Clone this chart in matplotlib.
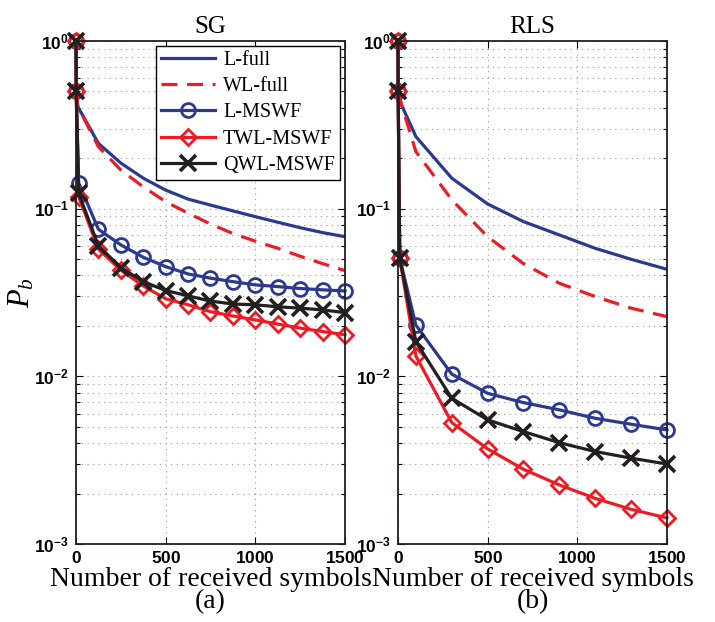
import numpy as np
import matplotlib; matplotlib.use("Agg")
import matplotlib.pyplot as plt
from matplotlib.ticker import FixedLocator, FuncFormatter, LogLocator, NullFormatter

BLUE, RED, BLACK = "#2b3990", "#ed1c24", "#231f20"
plt.rcParams["font.family"] = ["Liberation Serif"]
plt.rcParams["mathtext.fontset"] = "custom"
plt.rcParams["mathtext.bf"] = "Liberation Sans:bold"
plt.rcParams["mathtext.it"] = "Liberation Serif:italic"
plt.rcParams["mathtext.rm"] = "Liberation Serif"

# ---- SG panel (a) ----
sg_x_full = [0, 1, 10, 125, 250, 375, 500, 625, 750, 875, 1000, 1125, 1250, 1375, 1500]
sg_lfull = [1.0, 0.5, 0.406, 0.245, 0.187, 0.152, 0.129, 0.114, 0.105, 0.097, 0.0896,
            0.083, 0.077, 0.072, 0.068]
sg_wlfull = [1.0, 0.5, 0.406, 0.234, 0.170, 0.135, 0.110, 0.094, 0.081, 0.071, 0.064,
             0.058, 0.052, 0.047, 0.0427]
sg_x = [0, 1, 15, 125, 250, 375, 500, 625, 750, 875, 1000, 1125, 1250, 1375, 1500]
sg_lmswf = [1.0, 0.5, 0.142, 0.0753, 0.0608, 0.0513, 0.0451, 0.0408, 0.0385, 0.0367,
            0.0351, 0.0343, 0.0334, 0.0328, 0.0323]
sg_twl = [1.0, 0.5, 0.118, 0.0573, 0.043, 0.0346, 0.0290, 0.0267, 0.0243, 0.0229,
          0.0217, 0.0205, 0.0194, 0.0185, 0.0177]
sg_qwl = [1.0, 0.5, 0.1235, 0.060, 0.0445, 0.0367, 0.0325, 0.0302, 0.0281, 0.0270,
          0.0267, 0.026, 0.0255, 0.0249, 0.024]

# ---- RLS panel (b) ----
rls_x_full = [0, 1, 20, 100, 300, 500, 700, 900, 1100, 1300, 1500]
rls_lfull = [1.0, 0.5, 0.415, 0.269, 0.152, 0.1067, 0.0837, 0.0697, 0.058, 0.0499, 0.0435]
rls_wlfull = [1.0, 0.5, 0.415, 0.219, 0.113, 0.068, 0.047, 0.0359, 0.0299, 0.0255, 0.0227]
rls_x = [0, 1, 10, 100, 300, 500, 700, 900, 1100, 1300, 1500]
rls_lmswf = [1.0, 0.5, 0.0506, 0.0202, 0.0103, 0.00792, 0.00697, 0.00631, 0.00562,
             0.00518, 0.00479]
rls_twl = [1.0, 0.5, 0.0506, 0.0132, 0.0053, 0.00369, 0.00279, 0.00225, 0.00187,
           0.00161, 0.00143]
rls_qwl = [1.0, 0.5, 0.0506, 0.0161, 0.0074, 0.0055, 0.00468, 0.00402, 0.00356,
           0.00325, 0.0030]

labels = ["L-full", "WL-full", "L-MSWF", "TWL-MSWF", "QWL-MSWF"]
xticks = [0, 500, 1000, 1500]

fig = plt.figure(figsize=(7.15, 6.22), dpi=100)
fig.patch.set_facecolor("white")
ax1 = fig.add_axes([0.1063, 0.1254, 0.3762, 0.8087])
ax2 = fig.add_axes([0.5566, 0.1254, 0.3762, 0.8087])

mk = dict(markersize=10, mew=2, mfc="none", lw=2.3, clip_on=False)


def draw(ax, xf, lf, wlf, xm, lm, tw, qw, tag):
    ax.semilogy(xf, lf, color=BLUE, lw=2.3, label=labels[0])
    ax.semilogy(xf, wlf, color=RED, lw=2.3, ls=(0, (5, 3)), label=labels[1])
    ax.semilogy(xm, lm, color=BLUE, marker="o", label=labels[2], **mk)
    ax.semilogy(xm, tw, color=RED, marker="D", label=labels[3],
                **{**mk, "markersize": 8.5})
    ax.semilogy(xm, qw, color=BLACK, marker="x", label=labels[4],
                **{**mk, "markersize": 11, "mew": 2.6})
    ax.set_xlim(0, 1500); ax.set_ylim(1e-3, 1)
    ax.xaxis.set_major_locator(FixedLocator(xticks))
    ax.xaxis.set_major_formatter(FuncFormatter(lambda v, p: r"$\mathbf{%d}$" % v))
    ax.yaxis.set_major_locator(LogLocator(base=10, numticks=10))
    ax.yaxis.set_minor_locator(LogLocator(base=10, subs=np.arange(2, 10), numticks=10))
    ax.yaxis.set_minor_formatter(NullFormatter())
    ax.yaxis.set_major_formatter(FuncFormatter(lambda v, p: r"$\mathbf{10^{%d}}$" % round(np.log10(v))))
    ax.tick_params(which="both", direction="in", top=True, right=True, labelsize=12.5,
                   width=0.8, pad=5)
    ax.tick_params(which="major", length=5)
    ax.tick_params(which="minor", length=3)
    ax.grid(which="major", color="#999999", ls=(0, (1, 4)), lw=0.8)
    ax.grid(which="minor", axis="y", color="#999999", ls=(0, (1, 4)), lw=0.8)
    for s in ax.spines.values():
        s.set_linewidth(1.3); s.set_color("#231f20"); s.set_zorder(3)
    ax.set_xlabel("Number of received symbols\n(%s)" % tag, fontsize=20,
                  linespacing=0.85, labelpad=0)


draw(ax1, sg_x_full, sg_lfull, sg_wlfull, sg_x, sg_lmswf, sg_twl, sg_qwl, "a")
draw(ax2, rls_x_full, rls_lfull, rls_wlfull, rls_x, rls_lmswf, rls_twl, rls_qwl, "b")
ax1.set_title("SG", fontsize=18, pad=6)
ax2.set_title("RLS", fontsize=18, pad=6)
ax1.set_ylabel(r"$P_b$", fontsize=22, labelpad=-2)

leg = ax1.legend(loc="upper right", fontsize=14.5, frameon=True, fancybox=False,
                 edgecolor="black", handlelength=2.7, borderpad=0.25, labelspacing=0.35,
                 handletextpad=0.4, borderaxespad=0.25, framealpha=1)
leg.get_frame().set_linewidth(1.0)
leg.set_zorder(5)

fig.savefig("out.png", dpi=100, facecolor="white")
